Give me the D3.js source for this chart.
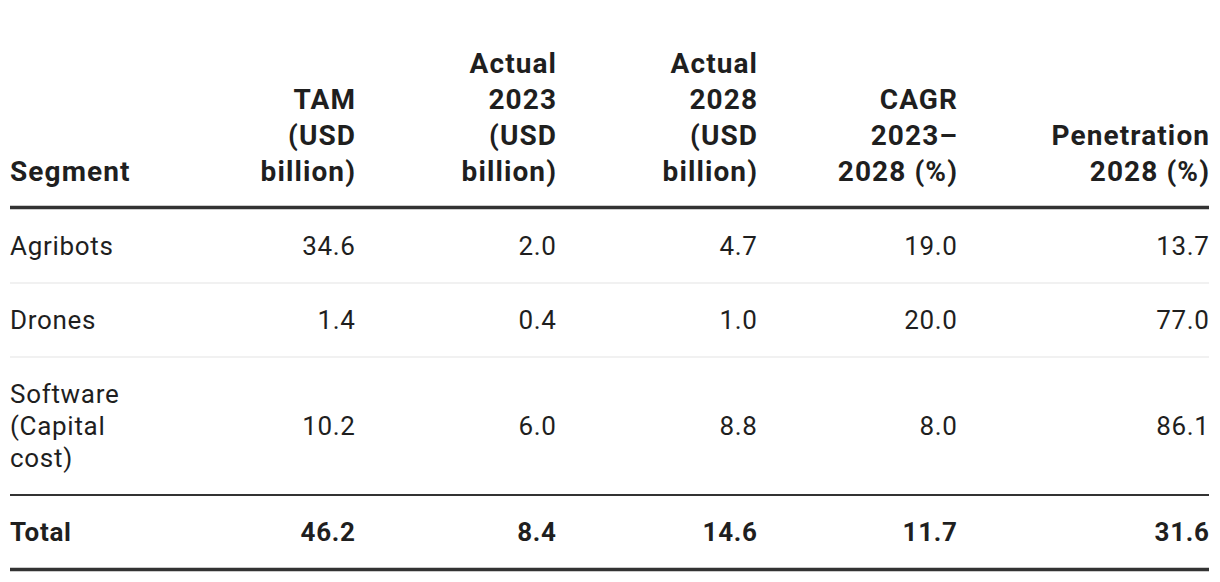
<!DOCTYPE html>
<html>
<head>
<meta charset="utf-8">
<script src="https://cdn.jsdelivr.net/npm/d3@7"></script>
<style>
  html, body { margin: 0; background: #fff; }
  svg text { font-family: Roboto, "Noto Sans", sans-serif; fill: #1f1f1f; }
</style>
</head>
<body>
<div id="chart"></div>
<script>
// table content
const headers = [
  ["Segment"],
  ["TAM", "(USD", "billion)"],
  ["Actual", "2023", "(USD", "billion)"],
  ["Actual", "2028", "(USD", "billion)"],
  ["CAGR", "2023–", "2028 (%)"],
  ["Penetration", "2028 (%)"]
];
const segments = [["Agribots"], ["Drones"], ["Software", "(Capital", "cost)"]];
const tam = [34.6, 1.4, 10.2];
const actual2023 = [2.0, 0.4, 6.0];
const actual2028 = [4.7, 1.0, 8.8];
const cagr = [19.0, 20.0, 8.0];
const penetration = [13.7, 77.0, 86.1];
const totalLabel = ["Total"];
const totals = [46.2, 8.4, 14.6, 11.7, 31.6];

// layout
const width = 1220, height = 582;
const left = 10;
const colRight = [null, 355, 556, 757, 957, 1209];
const headerBottom = 181, headerLine = 36;
const ruleTop = 207.5;
const bodyTop = 209, bodyLine = 32, rowPad = 42, firstBase = 46;
const headSize = 28, headSpacing = 1.1;
const bodySize = 26, bodySpacing = 0.7;

const fmt = d3.format(".1f");

const svg = d3.select("#chart").append("svg")
  .attr("width", width)
  .attr("height", height);

// header
const head = svg.append("g").attr("class", "header");
headers.forEach((lines, i) => {
  const x = i === 0 ? left : colRight[i] + headSpacing;
  const t = head.append("text")
    .attr("text-anchor", i === 0 ? "start" : "end")
    .attr("font-size", headSize)
    .attr("letter-spacing", headSpacing)
    .attr("font-weight", 700);
  lines.forEach((line, j) => {
    t.append("tspan")
      .attr("x", x)
      .attr("y", headerBottom - (lines.length - 1 - j) * headerLine)
      .text(line);
  });
});

svg.append("line")
  .attr("x1", left).attr("x2", colRight[5])
  .attr("y1", ruleTop).attr("y2", ruleTop)
  .attr("stroke", "#333").attr("stroke-width", 3.5);

// rows
const rows = segments.map((seg, i) => ({
  label: seg,
  values: [tam[i], actual2023[i], actual2028[i], cagr[i], penetration[i]],
  bold: false
}));
rows.push({ label: totalLabel, values: totals, bold: true });

let y = bodyTop;
rows.forEach((r, i) => {
  const h = r.label.length * bodyLine + rowPad;
  const g = svg.append("g").attr("class", "row");
  const t = g.append("text")
    .attr("font-size", bodySize)
    .attr("letter-spacing", bodySpacing)
    .attr("font-weight", r.bold ? 700 : 400);
  r.label.forEach((line, j) => {
    t.append("tspan")
      .attr("x", left)
      .attr("y", y + firstBase + j * bodyLine)
      .text(line);
  });
  const vy = y + firstBase + (r.label.length - 1) * bodyLine / 2;
  g.selectAll("text.val")
    .data(r.values)
    .join("text")
    .attr("class", "val")
    .attr("x", (d, k) => colRight[k + 1] + bodySpacing)
    .attr("y", vy)
    .attr("text-anchor", "end")
    .attr("font-size", bodySize)
    .attr("letter-spacing", bodySpacing)
    .attr("font-weight", r.bold ? 700 : 400)
    .text(d => fmt(d));
  y += h;
  // separator below row
  const next = rows[i + 1];
  if (next && !next.bold) {
    svg.append("line")
      .attr("x1", left).attr("x2", colRight[5])
      .attr("y1", y).attr("y2", y)
      .attr("stroke", "#ececec").attr("stroke-width", 1.5);
  } else if (next && next.bold) {
    svg.append("line")
      .attr("x1", left).attr("x2", colRight[5])
      .attr("y1", y).attr("y2", y)
      .attr("stroke", "#333").attr("stroke-width", 2);
  } else {
    svg.append("line")
      .attr("x1", left).attr("x2", colRight[5])
      .attr("y1", y + 0.5).attr("y2", y + 0.5)
      .attr("stroke", "#333").attr("stroke-width", 3.5);
  }
});
</script>
</body>
</html>
